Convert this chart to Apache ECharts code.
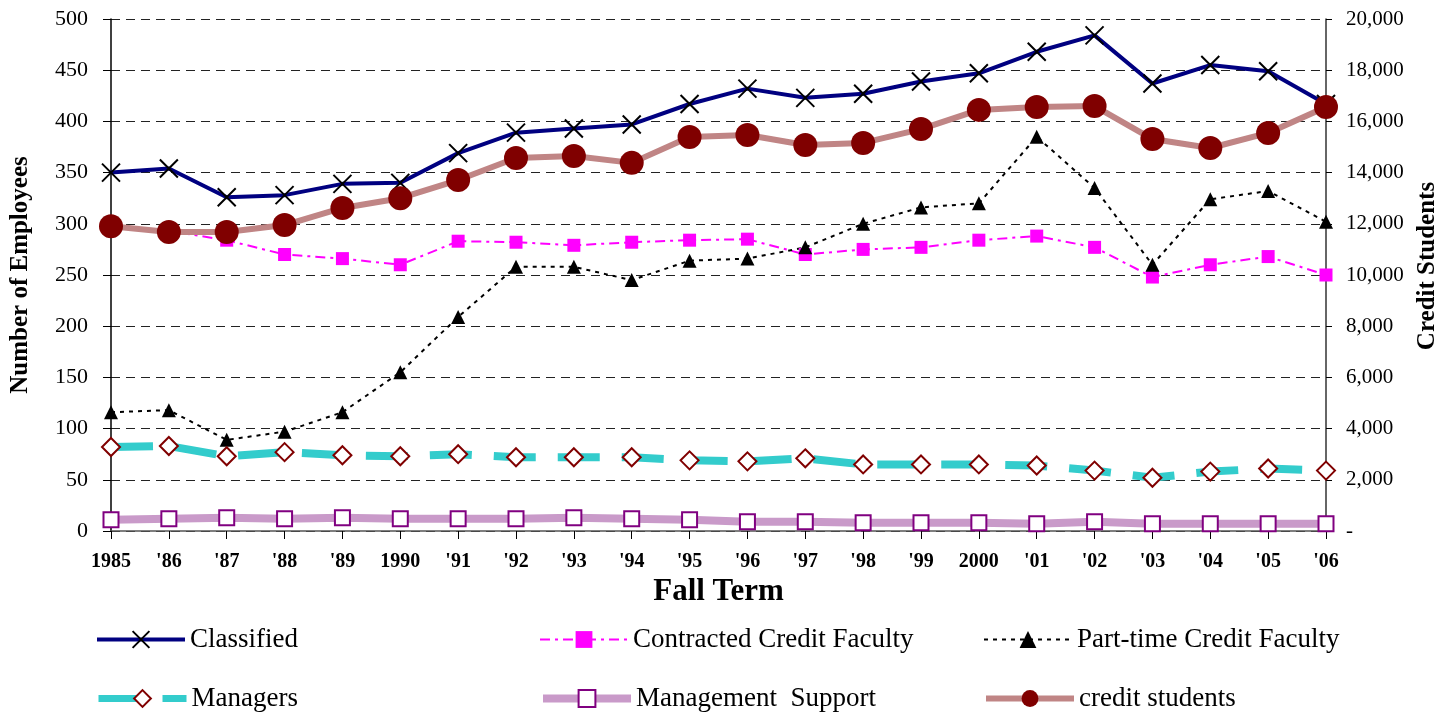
<!DOCTYPE html>
<html>
<head>
<meta charset="utf-8">
<title>Employees and Credit Students</title>
<script src="https://cdn.jsdelivr.net/npm/echarts@6/dist/echarts.min.js"></script>
<style>
  html, body { margin: 0; padding: 0; background: #fff; }
  #chart { width: 1448px; height: 713px; }
</style>
</head>
<body>
<div id="chart"></div>
<script>
// fall terms
const years = ['1985', "'86", "'87", "'88", "'89", '1990', "'91", "'92", "'93", "'94", "'95",
  "'96", "'97", "'98", "'99", '2000', "'01", "'02", "'03", "'04", "'05", "'06"];

// employees (left axis)
const classified = [350, 354, 326, 328, 339, 340, 369, 389, 393, 397, 417,
  432, 423, 427, 439, 447, 468, 484, 437, 455, 449, 417];
const contracted = [297, 293, 284, 270, 266, 260, 283, 282, 279, 282, 284,
  285, 270, 275, 277, 284, 288, 277, 248, 260, 268, 250];
const partTime = [116, 118, 89, 97, 116, 155, 209, 258, 258, 245, 264,
  266, 277, 300, 316, 320, 385, 335, 260, 324, 332, 302];
const managers = [82, 83, 73, 77, 74, 73, 75, 72, 72, 72, 69,
  68, 71, 65, 65, 65, 64, 59, 52, 58, 61, 59];
const mgmtSupport = [11, 12, 13, 12, 13, 12, 12, 12, 13, 12, 11,
  9, 9, 8, 8, 8, 7, 9, 7, 7, 7, 7];

// credit students (right axis)
const creditStudents = [11900, 11680, 11680, 11950, 12620, 13000, 13710, 14570, 14650, 14380, 15390,
  15470, 15080, 15160, 15700, 16450, 16560, 16600, 15310, 14960, 15550, 16560];

const serif = '"Liberation Serif", "Times New Roman", serif';

function withCommas(v) {
  if (v === 0) return '-';
  return String(v).replace(/\B(?=(\d{3})+(?!\d))/g, ',');
}

const chart = echarts.init(document.getElementById('chart'));

const legendText = { fontFamily: serif, fontSize: 27, color: '#000' };
function legendAt(name, left, top, lineWidth) {
  return {
    data: [name], left: left, top: top,
    itemWidth: 88, itemHeight: 21, itemGap: 0,
    lineStyle: { width: lineWidth },
    textStyle: legendText, selectedMode: false
  };
}

const option = {
  animation: false,
  backgroundColor: '#fff',
  grid: { left: 108, right: 122, top: 19, bottom: 182, containLabel: false },
  legend: [
    legendAt('Classified', 90, 621, 4),
    legendAt('Contracted Credit Faculty', 534, 621, 2),
    legendAt('Part-time Credit Faculty', 978, 621, 2),
    legendAt('Managers', 90, 680, 7),
    legendAt('Management  Support', 534, 680, 8),
    legendAt('credit students', 978, 680, 6)
  ],
  xAxis: {
    type: 'category',
    data: years,
    boundaryGap: false,
    name: 'Fall Term',
    nameLocation: 'middle',
    nameGap: 42,
    nameTextStyle: { fontFamily: serif, fontSize: 31, fontWeight: 'bold', color: '#000' },
    axisLine: { lineStyle: { color: '#555', width: 1.5 } },
    axisTick: { alignWithLabel: true, length: 8, lineStyle: { color: '#000' } },
    axisLabel: { fontFamily: serif, fontSize: 20, fontWeight: 'bold', color: '#000', margin: 21, interval: 0 }
  },
  yAxis: [
    {
      type: 'value',
      min: 0, max: 500, interval: 50,
      name: 'Number of Employees',
      nameLocation: 'middle',
      nameRotate: 90,
      nameGap: 78,
      nameTextStyle: { fontFamily: serif, fontSize: 25, fontWeight: 'bold', color: '#000' },
      axisLine: { show: true, lineStyle: { color: '#000', width: 1.5 } },
      axisTick: { show: true, length: 8, lineStyle: { color: '#000' } },
      axisLabel: { fontFamily: serif, fontSize: 22, color: '#000', margin: 23 },
      splitLine: { show: true, lineStyle: { color: '#222', type: [9, 6], width: 1 } }
    },
    {
      type: 'value',
      position: 'right',
      min: 0, max: 20000, interval: 2000,
      name: 'Credit Students',
      nameLocation: 'middle',
      nameRotate: 90,
      nameGap: 84,
      nameTextStyle: { fontFamily: serif, fontSize: 25, fontWeight: 'bold', color: '#000', padding: [0, 0, 0, 18] },
      axisLine: { show: true, lineStyle: { color: '#333', width: 1.5 } },
      axisTick: { show: true, length: 6, lineStyle: { color: '#000' } },
      axisLabel: { fontFamily: serif, fontSize: 21, color: '#000', margin: 20, formatter: withCommas },
      splitLine: { show: false }
    }
  ],
  series: [
    {
      name: 'Classified',
      type: 'line',
      data: classified,
      symbol: 'path://M0,0L20,20M20,0L0,20',
      symbolSize: 18,
      itemStyle: { color: 'rgba(0,0,0,0)', borderColor: '#000', borderWidth: 2 },
      lineStyle: { color: '#000080', width: 4 },
      z: 2
    },
    {
      name: 'Contracted Credit Faculty',
      type: 'line',
      data: contracted,
      symbol: 'rect',
      symbolSize: 13,
      itemStyle: { color: '#ff00ff' },
      lineStyle: { color: '#ff00ff', width: 2, type: [10, 5, 3, 5] },
      z: 3
    },
    {
      name: 'Part-time Credit Faculty',
      type: 'line',
      data: partTime,
      symbol: 'triangle',
      symbolSize: 14,
      itemStyle: { color: '#000' },
      lineStyle: { color: '#000', width: 2, type: [4, 5] },
      z: 3
    },
    {
      name: 'Managers',
      type: 'line',
      data: managers,
      symbol: 'diamond',
      symbolSize: 18,
      itemStyle: { color: '#fff', borderColor: '#800000', borderWidth: 2 },
      lineStyle: { color: '#33cccc', width: 8, type: [42, 22] },
      z: 3
    },
    {
      name: 'Management  Support',
      type: 'line',
      data: mgmtSupport,
      symbol: 'rect',
      symbolSize: 15,
      itemStyle: { color: '#fff', borderColor: '#800080', borderWidth: 2 },
      lineStyle: { color: '#c99ac9', width: 8 },
      z: 3
    },
    {
      name: 'credit students',
      type: 'line',
      yAxisIndex: 1,
      data: creditStudents,
      symbol: 'circle',
      symbolSize: 24,
      itemStyle: { color: '#800000' },
      lineStyle: { color: '#c08585', width: 6 },
      z: 4
    }
  ]
};

chart.setOption(option);
</script>
</body>
</html>
